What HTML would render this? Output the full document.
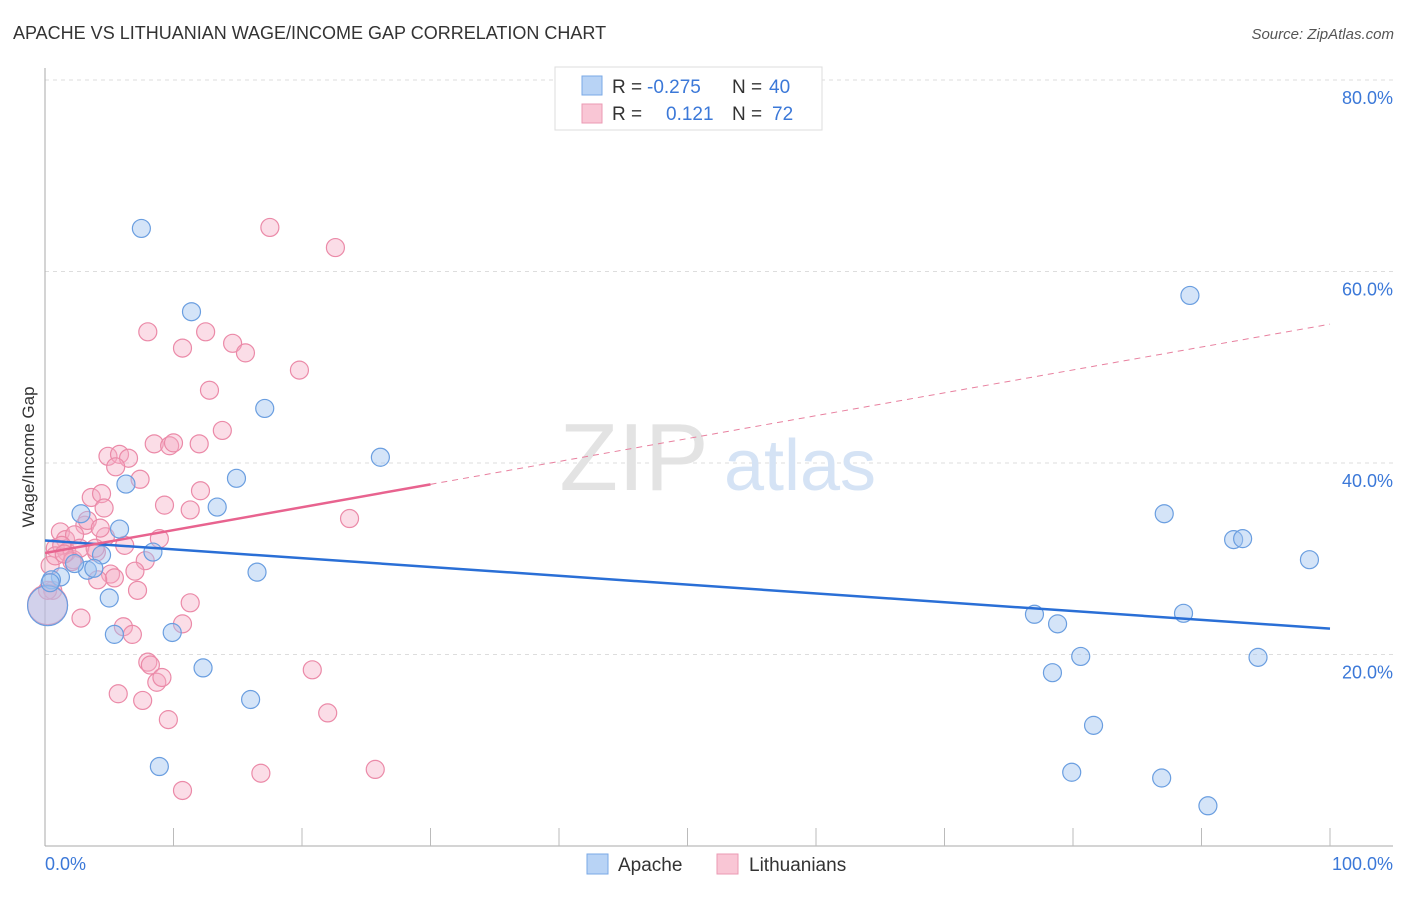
<!DOCTYPE html>
<html><head><meta charset="utf-8"><style>
body{margin:0;background:#fff;font-family:"Liberation Sans",sans-serif;}
svg text{font-family:"Liberation Sans",sans-serif;}
</style></head><body>
<svg width="1406" height="892" xmlns="http://www.w3.org/2000/svg">
<text x="13" y="39" font-size="18" fill="#333">APACHE VS LITHUANIAN WAGE/INCOME GAP CORRELATION CHART</text>
<text x="1394" y="39" font-size="15" fill="#555" font-style="italic" text-anchor="end">Source: ZipAtlas.com</text>
<g id="grid"></g>
<g><text x="634" y="490" font-size="96" font-family="Liberation Serif" fill="#e3e3e3" text-anchor="middle">ZIP</text><text x="800" y="490" font-size="72" fill="#d5e3f5" text-anchor="middle">atlas</text></g>
<line x1="45" y1="68" x2="45" y2="846" stroke="#aaa"/>
<line x1="45" y1="846" x2="1393" y2="846" stroke="#aaa"/>
<g id="ticks"></g>
<g id="ylabels"></g>
<text x="45" y="870" font-size="18" fill="#3b78d8">0.0%</text>
<text x="1393" y="870" font-size="18" fill="#3b78d8" text-anchor="end">100.0%</text>
<text transform="translate(34,457) rotate(-90)" font-size="17" fill="#333" text-anchor="middle">Wage/Income Gap</text>
<g id="pts"></g>
<g id="lines"></g>
<g>
<rect x="555" y="67" width="267" height="63" fill="#fff" stroke="#ddd"/>
<rect x="582" y="76" width="20" height="19" fill="#b8d3f5" stroke="#7aa8e6"/>
<rect x="582" y="104" width="20" height="19" fill="#f9c6d5" stroke="#eb9ab3"/>
<text x="612" y="93" font-size="19" fill="#333">R = </text><text x="647" y="93" font-size="19" fill="#3b78d8">-0.275</text>
<text x="732" y="93" font-size="19" fill="#333">N = </text><text x="769" y="93" font-size="19" fill="#3b78d8">40</text>
<text x="612" y="120" font-size="19" fill="#333">R = </text><text x="666" y="120" font-size="19" fill="#3b78d8">0.121</text>
<text x="732" y="120" font-size="19" fill="#333">N = </text><text x="772" y="120" font-size="19" fill="#3b78d8">72</text>
</g>
<g>
<rect x="587" y="854" width="21" height="20" fill="#b8d3f5" stroke="#7aa8e6"/>
<text x="618" y="871" font-size="19" fill="#333">Apache</text>
<rect x="717" y="854" width="21" height="20" fill="#f9c6d5" stroke="#eb9ab3"/>
<text x="749" y="871" font-size="19" fill="#333">Lithuanians</text>
</g>
</svg>
<script>
const yTicks=[20,40,60,80];
const xTicks=[10,20,30,40,50,60,70,80,90,100];
const blueX=[7.5,11.4,17.1,26.1,14.9,6.3,13.4,2.8,5.8,8.4,4.4,1.2,3.3,3.8,16.5,5.0,5.4,9.9,12.3,16.0,8.9,2.3,0.5,0.2,89.1,87.1,92.5,93.2,98.4,77.0,78.8,88.6,80.6,78.4,94.4,81.6,79.9,86.9,90.5,0.4];
const blueY=[64.5,55.8,45.7,40.6,38.4,37.8,35.4,34.7,33.1,30.7,30.4,28.1,28.8,29.0,28.6,25.9,22.1,22.3,18.6,15.3,8.3,29.5,27.8,25.1,57.5,34.7,32.0,32.1,29.9,24.2,23.2,24.3,19.8,18.1,19.7,12.6,7.7,7.1,4.2,27.5];
const pinkX=[17.5,22.6,8.0,12.5,10.7,14.6,15.6,19.8,12.8,13.8,4.9,5.8,6.5,8.5,9.7,10.0,12.0,7.4,5.5,3.6,4.4,9.3,12.1,11.3,4.6,3.1,1.2,1.6,2.3,3.3,4.7,6.2,8.9,7.8,0.8,1.7,2.2,4.0,2.7,0.4,0.6,5.1,5.4,7.0,4.1,7.2,2.8,11.3,6.1,6.8,10.7,8.0,8.2,8.7,9.1,5.7,7.6,9.6,20.8,22.0,23.7,16.8,25.7,10.7,0.2,3.9,1.3,0.2,2.1,4.3,0.8,1.5];
const pinkY=[64.6,62.5,53.7,53.7,52.0,52.5,51.5,49.7,47.6,43.4,40.7,40.9,40.5,42.0,41.8,42.1,42.0,38.3,39.6,36.4,36.8,35.6,37.1,35.1,35.3,33.5,32.8,32.0,32.5,34.0,32.3,31.4,32.1,29.8,31.1,30.7,29.9,30.7,31.1,29.3,26.7,28.4,28.0,28.7,27.8,26.7,23.8,25.4,22.9,22.1,23.2,19.2,18.9,17.1,17.6,15.9,15.2,13.2,18.4,13.9,34.2,7.6,8.0,5.8,26.7,31.1,31.4,25.2,29.7,33.2,30.3,30.5];
const blueBigIndex=23, pinkBigIndex=67;
const blueTrend=[31.9,22.7];
const pinkTrend=[30.6,54.5];
const pinkSolidEnd=30;
const NS="http://www.w3.org/2000/svg";
const sx=v=>45+v*12.85, sy=v=>846-v*9.575;
function mk(t,a,p){const e=document.createElementNS(NS,t);for(const k in a)e.setAttribute(k,a[k]);p.appendChild(e);return e;}
const grid=document.getElementById('grid'), yl=document.getElementById('ylabels');
yTicks.forEach(t=>{
 const l=mk('line',{x1:45,x2:1393,y1:sy(t),y2:sy(t),stroke:'#ddd','stroke-dasharray':'4,4'},grid);
 
 
 const tx=mk('text',{x:1393,y:sy(t)+24,'font-size':18,fill:'#3b78d8','text-anchor':'end'},yl);
 tx.textContent=t.toFixed(1)+'%';
 
 
});
const tk=document.getElementById('ticks');
xTicks.forEach(t=>{
 const l=mk('line',{x1:sx(t),x2:sx(t),y1:828,y2:846,stroke:'#bbb'},tk);
 
 
});
const pts=document.getElementById('pts');
pinkX.forEach((x,i)=>{
 const c=mk('circle',{cx:sx(x),cy:sy(pinkY[i]),r:i===pinkBigIndex?20:9,fill:'rgba(246,170,195,0.4)',stroke:'#eb8aa8','stroke-width':1.2},pts);
 
 
});
blueX.forEach((x,i)=>{
 const c=mk('circle',{cx:sx(x),cy:sy(blueY[i]),r:i===blueBigIndex?20:9,fill:'rgba(160,196,240,0.45)',stroke:'#6a9ee0','stroke-width':1.2},pts);
 
 
});
const ln=document.getElementById('lines');
const b=mk('line',{x1:sx(0),y1:sy(blueTrend[0]),x2:sx(100),y2:sy(blueTrend[1]),stroke:'#2a6fd6','stroke-width':2.5},ln);


const pAt=v=>pinkTrend[0]+(pinkTrend[1]-pinkTrend[0])*v/100;
const p1=mk('line',{x1:sx(0),y1:sy(pAt(0)),x2:sx(pinkSolidEnd),y2:sy(pAt(pinkSolidEnd)),stroke:'#e8638f','stroke-width':2.5},ln);


const p2=mk('line',{x1:sx(pinkSolidEnd),y1:sy(pAt(pinkSolidEnd)),x2:sx(100),y2:sy(pAt(100)),stroke:'#e8809f','stroke-width':1,'stroke-dasharray':'6,5'},ln);


</script>
</body></html>
